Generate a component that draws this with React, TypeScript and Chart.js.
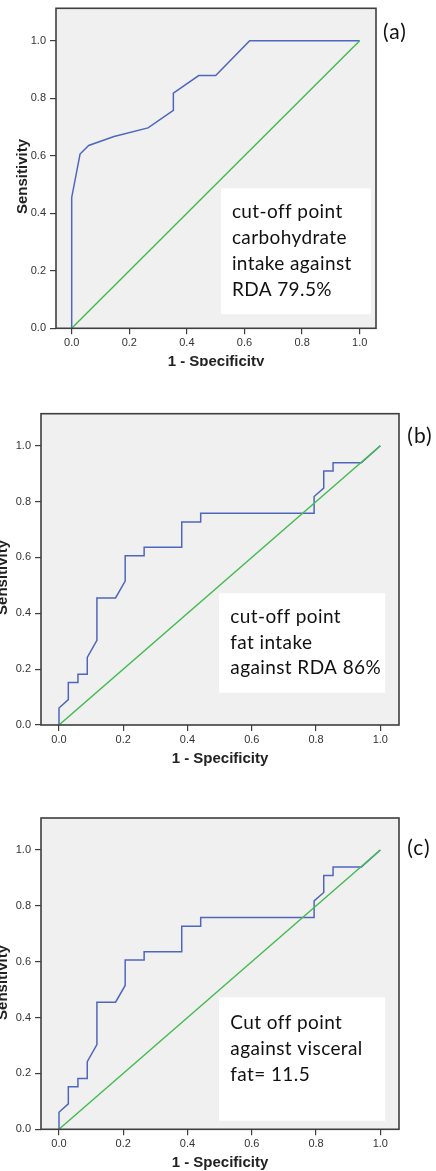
import React, { useEffect, useRef } from "react";
import { Chart, registerables } from "chart.js";

Chart.register(...registerables);

// ---- data ----
const xTickValues = [0, 0.2, 0.4, 0.6, 0.8, 1.0];
const yTickValues = [0, 0.2, 0.4, 0.6, 0.8, 1.0];
const xAxisTitle = "1 - Specificity";
const yAxisTitle = "Sensitivity";

const referenceX = [0, 1];
const referenceY = [0, 1];

// (a) carbohydrate intake against RDA
const rocAx = [0, 0, 0.029, 0.059, 0.147, 0.265, 0.353, 0.353, 0.441, 0.5, 0.618, 1];
const rocAy = [0, 0.455, 0.606, 0.636, 0.667, 0.697, 0.758, 0.818, 0.879, 0.879, 1, 1];

// (b) fat intake against RDA
const rocBx = [0, 0, 0.029, 0.029, 0.059, 0.059, 0.088, 0.088, 0.118, 0.118, 0.176, 0.206, 0.206, 0.265, 0.265, 0.382, 0.382, 0.441, 0.441, 0.794, 0.794, 0.824, 0.824, 0.853, 0.853, 0.941, 1];
const rocBy = [0, 0.061, 0.091, 0.152, 0.152, 0.182, 0.182, 0.242, 0.303, 0.455, 0.455, 0.515, 0.606, 0.606, 0.636, 0.636, 0.727, 0.727, 0.758, 0.758, 0.818, 0.848, 0.909, 0.909, 0.939, 0.939, 1];

// (c) visceral fat
const rocCx = [0, 0, 0.029, 0.029, 0.059, 0.059, 0.088, 0.088, 0.118, 0.118, 0.176, 0.206, 0.206, 0.265, 0.265, 0.382, 0.382, 0.441, 0.441, 0.794, 0.794, 0.824, 0.824, 0.853, 0.853, 0.941, 1];
const rocCy = [0, 0.061, 0.091, 0.152, 0.152, 0.182, 0.182, 0.242, 0.303, 0.455, 0.455, 0.515, 0.606, 0.606, 0.636, 0.636, 0.727, 0.727, 0.758, 0.758, 0.818, 0.848, 0.909, 0.909, 0.939, 0.939, 1];

const notesA = ["cut-off point", "carbohydrate", "intake against", "RDA 79.5%"];
const notesB = ["cut-off point", "fat intake", "against RDA 86%"];
const notesC = ["Cut off point", "against visceral", "fat= 11.5"];

const panelLabels = ["(a)", "(b)", "(c)"];

// ---- styles / layout ----
const ROC_COLOR = "#4f66be";
const REF_COLOR = "#45bb52";
const PLOT_BG = "#f0f0f0";
const FRAME = "#3f3f3f";
const TEXT = "#333333";

type Layout = {
  canvasTop: number;
  canvasHeight: number;
  padTop: number;
  padRight: number;
  yAxisWidth: number;
  xAxisHeight: number;
  xMin: number;
  xMax: number;
  yMax: number;
  yTitleX: number;
  yTitleDy: number;
  labelX: number;
  labelY: number;
  box: [number, number, number, number]; // data coords x0,x1,y0(top),y1(bottom)
  noteDx: number;
  noteDy: number;
  noteStep: number;
};

const layoutA: Layout = {
  canvasTop: -20, canvasHeight: 386, padTop: 28.3, padRight: 60, yAxisWidth: 56, xAxisHeight: 37.7,
  xMin: -0.0545, xMax: 1.0566, yMax: 1.113,
  yTitleX: 26.7, yTitleDy: 8.2, labelX: 383, labelY: 59,
  box: [0.518, 1.039, 0.487, 0.049], noteDx: 11, noteDy: 30, noteStep: 25.9,
};
const layoutB: Layout = {
  canvasTop: 390, canvasHeight: 380, padTop: 23.7, padRight: 37, yAxisWidth: 41, xAxisHeight: 45,
  xMin: -0.056, xMax: 1.0582, yMax: 1.1146,
  yTitleX: 7.3, yTitleDy: 8.1, labelX: 407.3, labelY: 53,
  box: [0.498, 1.015, 0.4715, 0.1157], noteDx: 11.3, noteDy: 30, noteStep: 25.5,
};
const layoutC: Layout = {
  canvasTop: 795, canvasHeight: 376, padTop: 23, padRight: 37, yAxisWidth: 41, xAxisHeight: 41.7,
  xMin: -0.056, xMax: 1.0582, yMax: 1.1146,
  yTitleX: 7.3, yTitleDy: 8.8, labelX: 407.3, labelY: 60,
  box: [0.498, 1.015, 0.4726, 0.0308], noteDx: 11.3, noteDy: 31.4, noteStep: 26,
};

function RocPanel(props: { layout: Layout; rx: number[]; ry: number[]; notes: string[]; label: string }) {
  const { layout, rx, ry, notes, label } = props;
  const ref = useRef<HTMLCanvasElement>(null);

  useEffect(() => {
    const canvas = ref.current;
    if (!canvas) return;

    const decor = {
      id: "decor",
      beforeDraw(chart: any) {
        const { ctx, chartArea: a } = chart;
        ctx.save();
        ctx.fillStyle = PLOT_BG;
        ctx.fillRect(a.left, a.top, a.right - a.left, a.bottom - a.top);
        ctx.restore();
      },
      afterDatasetsDraw(chart: any) {
        const { ctx, scales } = chart;
        const xs = scales.x, ys = scales.y;
        const x0 = xs.getPixelForValue(layout.box[0]);
        const x1 = xs.getPixelForValue(layout.box[1]);
        const y0 = ys.getPixelForValue(layout.box[2]);
        const y1 = ys.getPixelForValue(layout.box[3]);
        ctx.save();
        ctx.fillStyle = "#ffffff";
        ctx.fillRect(x0, y0, x1 - x0, y1 - y0);
        ctx.fillStyle = "#111111";
        ctx.font = "19px Lato";
        (ctx as any).letterSpacing = "0.4px";
        ctx.textAlign = "left";
        ctx.textBaseline = "alphabetic";
        notes.forEach((t, i) => {
          ctx.fillText(t, x0 + layout.noteDx, y0 + layout.noteDy + i * layout.noteStep);
        });
        ctx.restore();
      },
      afterDraw(chart: any) {
        const { ctx, chartArea: a } = chart;
        ctx.save();
        // frame
        ctx.strokeStyle = FRAME;
        ctx.lineWidth = 1.6;
        ctx.strokeRect(a.left, a.top, a.right - a.left, a.bottom - a.top);
        // axis titles
        ctx.fillStyle = "#222222";
        ctx.font = "bold 15px 'Liberation Sans', Arial, sans-serif";
        ctx.textAlign = "center";
        ctx.textBaseline = "alphabetic";
        ctx.fillText(xAxisTitle, (a.left + a.right) / 2, a.bottom + 37.5);
        ctx.save();
        ctx.translate(layout.yTitleX, (a.top + a.bottom) / 2 + layout.yTitleDy);
        ctx.rotate(-Math.PI / 2);
        ctx.fillText(yAxisTitle, 0, 0);
        ctx.restore();
        // panel label
        ctx.fillStyle = "#111111";
        ctx.font = "21px Lato";
        (ctx as any).letterSpacing = "1px";
        ctx.textAlign = "left";
        ctx.fillText(label, layout.labelX, layout.labelY);
        ctx.restore();
      },
    };

    const tickFont = { family: "'Liberation Sans', Arial, sans-serif", size: 11 };

    const chart = new Chart(canvas, {
      type: "scatter",
      data: {
        datasets: [
          {
            label: "Reference Line",
            data: referenceX.map((x, i) => ({ x, y: referenceY[i] })),
            showLine: true,
            borderColor: REF_COLOR,
            borderWidth: 1.5,
            pointRadius: 0,
            tension: 0,
          },
          {
            label: "ROC",
            data: rx.map((x, i) => ({ x, y: ry[i] })),
            showLine: true,
            borderColor: ROC_COLOR,
            borderWidth: 1.5,
            pointRadius: 0,
            tension: 0,
          },
        ],
      },
      options: {
        animation: false,
        responsive: false,
        devicePixelRatio: 1,
        layout: { padding: { left: 0, top: layout.padTop, right: layout.padRight, bottom: 0 } },
        plugins: { legend: { display: false }, tooltip: { enabled: false }, title: { display: false } },
        scales: {
          x: {
            type: "linear",
            min: layout.xMin,
            max: layout.xMax,
            afterBuildTicks: (s: any) => { s.ticks = xTickValues.map((v) => ({ value: v })); },
            afterFit: (s: any) => { s.height = layout.xAxisHeight; },
            ticks: {
              font: tickFont, color: TEXT, padding: 2, maxRotation: 0, autoSkip: false,
              callback: (v: any) => Number(v).toFixed(1),
            },
            grid: { display: true, drawOnChartArea: false, drawTicks: true, tickLength: 6, color: FRAME, lineWidth: 1.2 },
            border: { display: false },
          },
          y: {
            type: "linear",
            min: 0,
            max: layout.yMax,
            afterBuildTicks: (s: any) => { s.ticks = yTickValues.map((v) => ({ value: v })); },
            afterFit: (s: any) => { s.width = layout.yAxisWidth; },
            ticks: {
              font: tickFont, color: TEXT, padding: 4, autoSkip: false,
              callback: (v: any) => Number(v).toFixed(1),
            },
            grid: { display: true, drawOnChartArea: false, drawTicks: true, tickLength: 6, color: FRAME, lineWidth: 1.2 },
            border: { display: false },
          },
        },
      },
      plugins: [decor],
    } as any);

    return () => chart.destroy();
  }, []);

  return (
    <canvas
      ref={ref}
      width={436}
      height={layout.canvasHeight}
      style={{ position: "absolute", left: 0, top: layout.canvasTop, width: 436, height: layout.canvasHeight }}
    />
  );
}

export default function App() {
  return (
    <div style={{ position: "absolute", left: 0, top: 0, width: 436, height: 1171, overflow: "hidden", background: "#ffffff" }}>
      <div style={{ position: "absolute", left: 0, top: 0, width: 436, height: 366, overflow: "hidden" }}>
        <RocPanel layout={layoutA} rx={rocAx} ry={rocAy} notes={notesA} label={panelLabels[0]} />
      </div>
      <RocPanel layout={layoutB} rx={rocBx} ry={rocBy} notes={notesB} label={panelLabels[1]} />
      <RocPanel layout={layoutC} rx={rocCx} ry={rocCy} notes={notesC} label={panelLabels[2]} />
    </div>
  );
}
